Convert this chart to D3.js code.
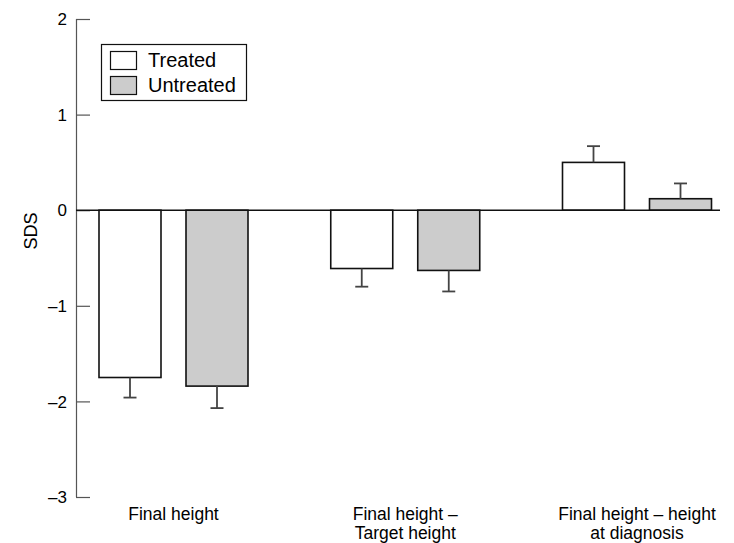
<!DOCTYPE html>
<html><head><meta charset="utf-8">
<script src="https://cdn.jsdelivr.net/npm/d3@7"></script>
<style>body{margin:0;background:#fff}svg{display:block}</style>
</head><body>
<svg id="c" width="734" height="543"></svg>
<script>
const categories = ["Final height", "Final height – Target height", "Final height – height at diagnosis"];
const categoryLines = [["Final height"], ["Final height –", "Target height"], ["Final height – height", "at diagnosis"]];
const seriesNames = ["Treated", "Untreated"];
const treatedValues = [-1.75, -0.61, 0.50];
const treatedErrors = [0.21, 0.19, 0.17];
const untreatedValues = [-1.84, -0.63, 0.12];
const untreatedErrors = [0.23, 0.22, 0.16];
const yTicks = [-3, -2, -1, 0, 1, 2];
const tickLabels = ["\u20133", "\u20132", "\u20131", "0", "1", "2"];
const colors = {Treated: "#ffffff", Untreated: "#cccccc"};

const data = [];
categories.forEach((c, i) => {
  data.push({cat: c, series: "Treated", v: treatedValues[i], e: treatedErrors[i]});
  data.push({cat: c, series: "Untreated", v: untreatedValues[i], e: untreatedErrors[i]});
});

const svg = d3.select("#c");
const font = "'Liberation Sans', Arial, Helvetica, sans-serif";
const y = d3.scaleLinear().domain([-3, 2]).range([497, 19]);
const xg = d3.scalePoint().domain(categories).range([173.5, 637]);
const xs = d3.scaleBand().domain(seriesNames).range([-74.5, 74.5]).paddingInner(0.2874).paddingOuter(0);
const axisX = 76;

// y axis
const axis = d3.axisRight(y).tickValues(yTicks).tickSize(14).tickFormat("");
const ag = svg.append("g").attr("transform", `translate(${axisX},0)`).call(axis);
ag.select(".domain").attr("stroke", "#555").attr("stroke-width", 1.2).attr("d", `M0.5,${y(2)}V${y(-3)}`);
ag.selectAll(".tick line").attr("stroke", "#555").attr("stroke-width", 1.2);
svg.append("g").selectAll("text").data(yTicks).join("text")
  .attr("x", 67).attr("y", d => y(d)).attr("dy", "0.36em")
  .attr("text-anchor", "end").attr("font-family", font).attr("font-size", 17)
  .text((d, i) => tickLabels[i]);

svg.append("text").attr("transform", `translate(37,231) rotate(-90)`)
  .attr("text-anchor", "middle").attr("font-family", font).attr("font-size", 18).text("SDS");

// bars
const g = svg.append("g");
g.selectAll("rect").data(data).join("rect")
  .attr("x", d => xg(d.cat) + xs(d.series))
  .attr("width", xs.bandwidth())
  .attr("y", d => y(Math.max(0, d.v)))
  .attr("height", d => Math.abs(y(d.v) - y(0)))
  .attr("fill", d => colors[d.series])
  .attr("stroke", "#111").attr("stroke-width", 1.6);

// error bars
const eb = svg.append("g").attr("stroke", "#444").attr("stroke-width", 1.8);
data.forEach(d => {
  const cx = xg(d.cat) + xs(d.series) + xs.bandwidth() / 2;
  const end = d.v < 0 ? d.v - d.e : d.v + d.e;
  eb.append("line").attr("x1", cx).attr("x2", cx).attr("y1", y(d.v)).attr("y2", y(end));
  eb.append("line").attr("x1", cx - 6.5).attr("x2", cx + 6.5).attr("y1", y(end)).attr("y2", y(end));
});

// zero line
svg.append("line").attr("x1", axisX).attr("x2", 720).attr("y1", y(0)).attr("y2", y(0))
  .attr("stroke", "#111").attr("stroke-width", 1.4);

// category labels
categories.forEach((c, i) => {
  categoryLines[i].forEach((ln, j) => {
    svg.append("text").attr("text-anchor", "middle").attr("font-family", font).attr("font-size", 17.5)
      .attr("x", xg(c)).attr("y", 520 + j * 19).text(ln);
  });
});

// legend
const lg = svg.append("g");
lg.append("rect").attr("x", 101.5).attr("y", 44.5).attr("width", 145).attr("height", 56)
  .attr("fill", "#fff").attr("stroke", "#111").attr("stroke-width", 1.2);
seriesNames.forEach((s, i) => {
  lg.append("rect").attr("x", 110.5).attr("y", 51.5 + i * 25).attr("width", 26).attr("height", 18)
    .attr("fill", colors[s]).attr("stroke", "#111").attr("stroke-width", 1.2);
  lg.append("text").attr("x", 148).attr("y", 67 + i * 25).attr("font-family", font).attr("font-size", 20).text(s);
});
</script>
</body></html>
